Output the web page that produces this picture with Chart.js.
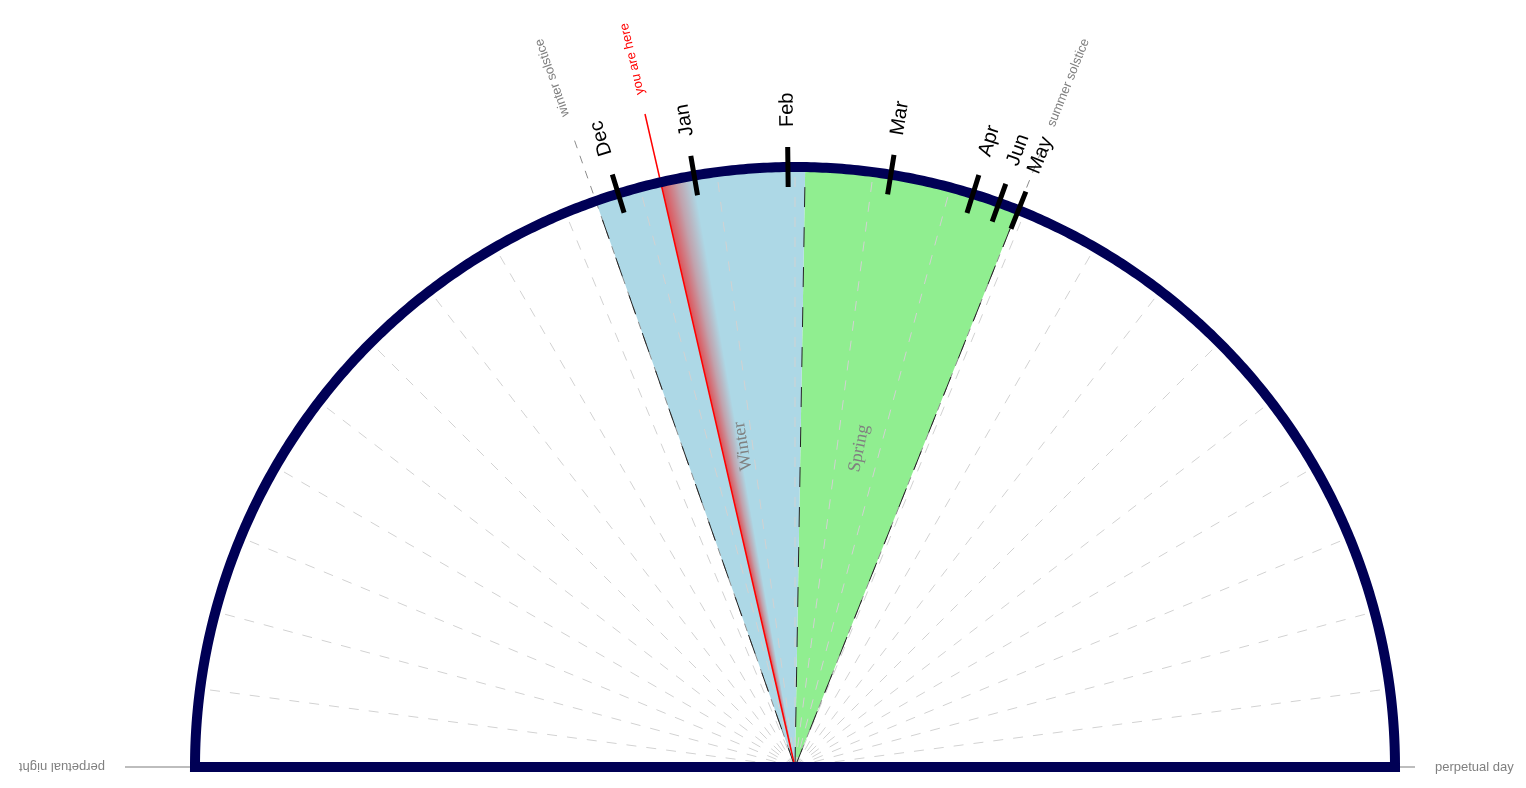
<!DOCTYPE html>
<html>
<head>
<meta charset="utf-8">
<script src="https://cdn.jsdelivr.net/npm/chart.js@4.4.1/dist/chart.umd.min.js"></script>
<style>
html,body{margin:0;padding:0;background:#ffffff;}
#wrap{width:1526px;height:788px;position:relative;}
</style>
</head>
<body>
<div id="wrap"><canvas id="c"></canvas></div>
<script>
// ---------- data (day length in hours) ----------
const months = ['Dec','Jan','Feb','Mar','Apr','Jun','May'];
const monthDayLength = [9.715, 10.71, 11.91, 13.225, 14.30, 14.65, 14.915];
const seasonNames = ['Winter','Spring'];
const seasonStart = [9.415, 12.13];
const seasonEnd = [12.13, 14.905];
const seasonColors = ['#ADD8E6','#90EE90'];
const solsticeNames = ['winter solstice','summer solstice'];
const solsticeHours = [9.415, 14.905];
const hereLabel = 'you are here';
const hereHours = 10.275;
const hereShadowHours = 0.42;
const hourGrid = [1,2,3,4,5,6,7,8,9,10,11,12,13,14,15,16,17,18,19,20,21,22,23];
const extremeNames = ['perpetual night','perpetual day'];
const extremeHours = [0, 24];

// ---------- geometry helpers ----------
const W = 1526, H = 788, CX = 795, CY = 767, RPX = 600;
function ang(h){ return Math.PI * (1 - h / 24); }
function pt(h, r){ const a = ang(h); return {x: r * Math.cos(a), y: r * Math.sin(a)}; }
function rays(list, r0, r1){
  const d = [];
  list.forEach((h, i) => { if (i) d.push({x: null, y: null}); d.push(pt(h, r0), pt(h, r1)); });
  return d;
}
function wedge(h0, h1, r){
  const d = [{x: 0, y: 0}];
  const n = Math.max(2, Math.ceil(Math.abs(h1 - h0) / 0.02));
  for (let i = 0; i <= n; i++) d.push(pt(h0 + (h1 - h0) * i / n, r));
  d.push({x: 0, y: 0});
  return d;
}
function arcOutline(){
  const d = [];
  for (let i = 0; i <= 480; i++) d.push(pt(24 * i / 480, 1));
  d.push(pt(0, 1));
  return d;
}
function ds(data, o){
  return Object.assign({data, showLine: true, pointRadius: 0, pointHoverRadius: 0,
    borderWidth: 1, fill: false, tension: 0, spanGaps: false, borderColor: 'transparent'}, o);
}

let shadowGradient = null;

const datasets = [];
// season wedges
seasonNames.forEach((n, i) => {
  datasets.push(ds(wedge(seasonStart[i], seasonEnd[i], 1), {
    fill: 'shape', backgroundColor: seasonColors[i], borderWidth: 0, order: 20}));
});
// red shadow next to "you are here"
datasets.push(ds(wedge(hereHours, hereHours + hereShadowHours, 1), {
  fill: 'shape', borderWidth: 0, order: 19,
  backgroundColor: () => shadowGradient || 'rgba(255,0,0,0.25)'}));
// hour grid
datasets.push(ds(rays(hourGrid, 0, 1), {borderColor: '#d2d2d2', borderWidth: 1, borderDash: [10, 10], order: 18}));
// solstice gray dashed lines
datasets.push(ds(rays(solsticeHours, 0, 670 / RPX), {borderColor: '#8c8c8c', borderWidth: 1, borderDash: [8, 8], order: 17}));
// wedge edges (black dashed)
datasets.push(ds(rays([seasonStart[0], seasonStart[1], seasonEnd[1]], 0, 1), {borderColor: '#222222', borderWidth: 1, borderDash: [20, 20], order: 16}));
// you are here line
datasets.push(ds(rays([hereHours], 0, 670 / RPX), {borderColor: '#ff0000', borderWidth: 1.5, order: 15}));
// perpetual night / day lines
datasets.push(ds(rays([extremeHours[0]], 605 / RPX, 670 / RPX), {borderColor: '#bdbdbd', borderWidth: 2, order: 14}));
datasets.push(ds(rays([extremeHours[1]], 605 / RPX, 620 / RPX), {borderColor: '#bdbdbd', borderWidth: 2, order: 14}));
// outline arc + base (solid; long dash avoids the column-merging fast path)
datasets.push(ds(arcOutline(), {borderColor: '#000055', borderWidth: 10, borderDash: [100000, 0],
  borderCapStyle: 'square', borderJoinStyle: 'miter', order: 13}));
// month ticks
datasets.push(ds(rays(monthDayLength, 580 / RPX, 620 / RPX), {borderColor: '#000000', borderWidth: 5, order: 12}));

const gradientPlugin = {
  id: 'shadowGradient',
  afterLayout(chart){
    const sx = chart.scales.x, sy = chart.scales.y;
    const px = sx.getPixelForValue(0), py = sy.getPixelForValue(0);
    if (!isFinite(px) || !isFinite(py) || !chart.ctx.createConicGradient) return;
    const g = chart.ctx.createConicGradient(-ang(hereHours), px, py);
    const span = hereShadowHours * 7.5 / 360;
    g.addColorStop(0, 'rgba(255,0,0,0.62)');
    g.addColorStop(span * 0.5, 'rgba(255,0,0,0.25)');
    g.addColorStop(span, 'rgba(255,0,0,0)');
    g.addColorStop(1, 'rgba(255,0,0,0)');
    shadowGradient = g;
  }
};

const labelPlugin = {
  id: 'radialLabels',
  afterDatasetsDraw(chart){
    const ctx = chart.ctx, sx = chart.scales.x, sy = chart.scales.y;
    function radialText(text, h, r, font, color, align){
      const p = pt(h, r);
      ctx.save();
      ctx.translate(sx.getPixelForValue(p.x), sy.getPixelForValue(p.y));
      ctx.rotate(-ang(h));
      ctx.font = font; ctx.fillStyle = color;
      ctx.textAlign = align || 'left'; ctx.textBaseline = 'middle';
      ctx.fillText(text, 0, 0);
      ctx.restore();
    }
    months.forEach((m, i) => radialText(m, monthDayLength[i], 640 / RPX, '20px "Liberation Sans", Arial, sans-serif', '#000000'));
    solsticeNames.forEach((s, i) => radialText(s, solsticeHours[i], 690 / RPX, '13px "Liberation Sans", Arial, sans-serif', '#808080'));
    radialText(hereLabel, hereHours, 690 / RPX, '13px "Liberation Sans", Arial, sans-serif', '#ff0000');
    radialText(extremeNames[0], extremeHours[0], 690 / RPX, '13px "Liberation Sans", Arial, sans-serif', '#808080');
    radialText(extremeNames[1], extremeHours[1], 640 / RPX, '13px "Liberation Sans", Arial, sans-serif', '#808080');
    seasonNames.forEach((s, i) => radialText(s, (seasonStart[i] + seasonEnd[i]) / 2, 325 / RPX, '18px "Liberation Serif", "Times New Roman", serif', '#808080', 'center'));
  }
};

new Chart(document.getElementById('c'), {
  type: 'line',
  data: {datasets},
  options: {
    responsive: true, maintainAspectRatio: false, animation: false, events: [],
    layout: {padding: 0},
    scales: {
      x: {type: 'linear', display: false, bounds: 'data', min: -CX / RPX, max: (W - CX) / RPX},
      y: {type: 'linear', display: false, bounds: 'data', min: -(H - CY) / RPX, max: CY / RPX}
    },
    plugins: {legend: {display: false}, tooltip: {enabled: false}}
  },
  plugins: [gradientPlugin, labelPlugin]
});
</script>
</body>
</html>
